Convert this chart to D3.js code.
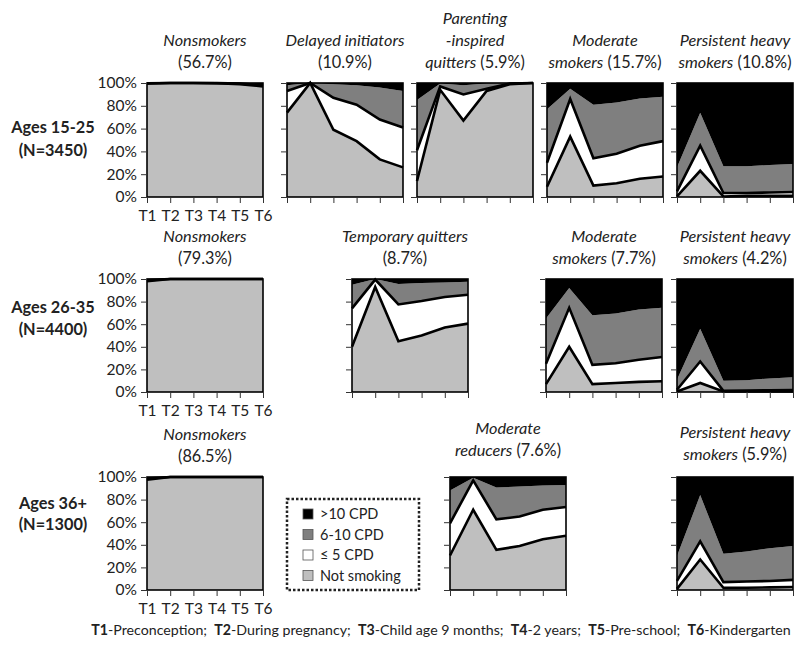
<!DOCTYPE html>
<html>
<head>
<meta charset="utf-8">
<script src="https://cdn.jsdelivr.net/npm/d3@7"></script>
<style>
  html, body { margin: 0; padding: 0; background: #fff; }
  svg { display: block; font-family: Lato, "Open Sans", sans-serif; }
</style>
</head>
<body>
<svg id="chart" width="797" height="650"></svg>
<script>
// ---------------- DATA ----------------
const timepoints = ["T1", "T2", "T3", "T4", "T5", "T6"];
const seriesKeys = ["notSmoking", "le5", "cpd6to10", "gt10"];
const seriesLabels = ["Not smoking", "\u2264 5 CPD", "6-10 CPD", ">10 CPD"];
const yTicks = [0, 0.2, 0.4, 0.6, 0.8, 1];
const rowLabels = [["Ages 15-25", "(N=3450)"], ["Ages 26-35", "(N=4400)"], ["Ages 36+", "(N=1300)"]];

// shares (%) per timepoint: [notSmoking, <=5 CPD, 6-10 CPD, >10 CPD]
const r1Nonsmokers   = [[99.5,100,100,99.8,99,97],[0.2,0,0,0.1,0.5,1],[0.2,0,0,0.1,0.3,1],[0.1,0,0,0,0.2,1]];
const r1Delayed      = [[74,100,59,49,33,26],[19,0,28,32,35,35],[5,0,12,17,28,32],[2,0,1,2,4,7]];
const r1Parenting    = [[14,94,67,93,99,100],[27,3,23,2,0.5,0],[44,2.5,8,4.5,0.5,0],[15,0.5,2,0.5,0,0]];
const r1Moderate     = [[9,53,10,12,16,18],[21,33,24,26,29,31],[47,9,47,45,41.5,39],[23,5,19,17,13.5,12]];
const r1Persistent   = [[0.5,23,0.5,1,1,1],[4.5,22,3,2.5,3,3.4],[21,29,23.5,23.5,24,24.6],[74,26,73,73,72,71]];
const r2Nonsmokers   = [[98,100,100,100,100,100],[1,0,0,0,0,0],[0.6,0,0,0,0,0],[0.4,0,0,0,0,0]];
const r2Temporary    = [[40,93,45,50,57,60.5],[34,6.5,32.5,30.5,27,25.5],[21,0.5,18,16,13,11.5],[5,0,4.5,3.5,3,2.5]];
const r2Moderate     = [[7,40,7,8,9,9.5],[18,34.5,17,17.5,19.5,21.5],[40,17.5,44,44,44.5,43.5],[35,8,32,30.5,27,25.5]];
const r2Persistent   = [[0.5,8,0.5,0.5,0.5,0.5],[1.5,19,0.5,0.7,1,1.3],[9,29,9,9.3,10.5,11.2],[89,44,90,89.5,88,87]];
const r3Nonsmokers   = [[97.5,100,100,100,100,100],[1.2,0,0,0,0,0],[0.8,0,0,0,0,0],[0.5,0,0,0,0,0]];
const r3Reducers     = [[30.5,71,35.5,39,45,48],[28.5,26,27,26,26,25.5],[29,2.4,28.2,26.6,21.4,19.5],[12,0.6,9.3,8.4,7.6,7]];
const r3Persistent   = [[1,27,2,2,2.3,2.6],[7,16,5,5.5,5.7,6.4],[22,41,25,26.5,29,30],[70,16,68,66,63,61]];

const footnote = [["T1","-Preconception;  "],["T2","-During pregnancy;  "],["T3","-Child age 9 months;  "],["T4","-2 years;  "],["T5","-Pre-school;  "],["T6","-Kindergarten"]];

// ---------------- LAYOUT ----------------
const colors = { notSmoking: "#bfbfbf", le5: "#ffffff", cpd6to10: "#7f7f7f", gt10: "#000000" };
const PW = 116;
const rows = [
  { top: 83, bottom: 197, labelY: [127, 150] },
  { top: 279, bottom: 392, labelY: [307, 329] },
  { top: 477, bottom: 590, labelY: [503, 524] }
];
// title: array of lines; each line array of [text, italic]
const panels = [
  { row: 0, x: 147, first: true, data: r1Nonsmokers, title: [[["Nonsmokers", true]], [["(56.7%)", false]]] },
  { row: 0, x: 287, data: r1Delayed, title: [[["Delayed initiators", true]], [["(10.9%)", false]]] },
  { row: 0, x: 417, data: r1Parenting, title: [[["Parenting", true]], [["-inspired", true]], [["quitters", true], [" (5.9%)", false]]] },
  { row: 0, x: 547, data: r1Moderate, title: [[["Moderate", true]], [["smokers", true], [" (15.7%)", false]]] },
  { row: 0, x: 677, data: r1Persistent, title: [[["Persistent heavy", true]], [["smokers", true], [" (10.8%)", false]]] },
  { row: 1, x: 147, first: true, data: r2Nonsmokers, title: [[["Nonsmokers", true]], [["(79.3%)", false]]] },
  { row: 1, x: 352, data: r2Temporary, tdx: -5, title: [[["Temporary quitters", true]], [["(8.7%)", false]]] },
  { row: 1, x: 546, data: r2Moderate, title: [[["Moderate", true]], [["smokers", true], [" (7.7%)", false]]] },
  { row: 1, x: 677, data: r2Persistent, title: [[["Persistent heavy", true]], [["smokers", true], [" (4.2%)", false]]] },
  { row: 2, x: 147, first: true, data: r3Nonsmokers, title: [[["Nonsmokers", true]], [["(86.5%)", false]]] },
  { row: 2, x: 450, data: r3Reducers, tdy: -6, title: [[["Moderate", true]], [["reducers", true], [" (7.6%)", false]]] },
  { row: 2, x: 677, data: r3Persistent, tdy: -2, title: [[["Persistent heavy", true]], [["smokers", true], [" (5.9%)", false]]] }
];

const svg = d3.select("#chart");
const FS = 15.5;

panels.forEach(p => {
  const r = rows[p.row];
  const x = d3.scalePoint().domain(timepoints).range([p.x, p.x + PW]);
  const y = d3.scaleLinear().domain([0, 1]).range([r.bottom, r.top]);
  const table = timepoints.map((t, i) => {
    const o = { t };
    seriesKeys.forEach((k, j) => o[k] = p.data[j][i]);
    return o;
  });
  const stacked = d3.stack().keys(seriesKeys).offset(d3.stackOffsetExpand)(table);
  const g = svg.append("g");
  const area = d3.area().x(d => x(d.data.t)).y0(d => y(d[0])).y1(d => y(d[1]));
  g.selectAll("path.area").data(stacked).join("path")
    .attr("class", "area").attr("d", area).attr("fill", d => colors[d.key]).attr("stroke", "none");
  const line = d3.line().x(d => x(d.data.t)).y(d => y(d[1]));
  g.selectAll("path.bline").data(stacked.filter(s => s.key === "notSmoking" || s.key === "le5")).join("path")
    .attr("class", "bline").attr("d", line).attr("fill", "none").attr("stroke", "#000")
    .attr("stroke-width", 2.6).attr("stroke-linejoin", "miter");
  g.append("rect").attr("x", p.x).attr("y", r.top).attr("width", PW).attr("height", r.bottom - r.top)
    .attr("fill", "none").attr("stroke", "#000").attr("stroke-width", 1.6);

  const ya = d3.axisLeft(y).tickValues(yTicks).tickSize(6).tickPadding(4)
    .tickFormat(p.first ? d3.format(".0%") : () => "");
  const yg = g.append("g").attr("transform", `translate(${p.x},0)`).call(ya);
  const xa = d3.axisBottom(x).tickSize(6).tickPadding(7).tickFormat(p.first ? (d => d) : () => "");
  const xg = g.append("g").attr("transform", `translate(0,${r.bottom})`).call(xa);
  [yg, xg].forEach(a => {
    a.select(".domain").remove();
    a.selectAll(".tick line").attr("stroke", "#333").attr("stroke-width", 1);
    a.selectAll("text").attr("font-family", "Lato, sans-serif").attr("font-size", FS).attr("fill", "#222");
  });

  // title
  const cx = p.x + PW / 2 + (p.tdx || 0);
  const n = p.title.length;
  p.title.forEach((lineParts, li) => {
    const cy = r.top - 21 + (p.tdy || 0) - (n - 1 - li) * 22;
    const t = svg.append("text").attr("x", cx).attr("y", cy + 5.5).attr("text-anchor", "middle")
      .attr("font-size", 16.3).attr("fill", "#222").attr("xml:space", "preserve");
    lineParts.forEach(([txt, it]) => t.append("tspan").attr("font-style", it ? "italic" : "normal").text(txt));
  });
});

// row labels
rows.forEach((r, i) => {
  rowLabels[i].forEach((txt, j) => {
    svg.append("text").attr("x", 53).attr("y", r.labelY[j] + 5.5).attr("text-anchor", "middle")
      .attr("font-size", 16.3).attr("font-weight", "bold").attr("fill", "#222").text(txt);
  });
});

// legend
const lg = svg.append("g");
lg.append("rect").attr("x", 287).attr("y", 499).attr("width", 132).attr("height", 91)
  .attr("fill", "#fff").attr("stroke", "#222").attr("stroke-width", 2.5).attr("stroke-dasharray", "2.5,2");
const legendOrder = [3, 2, 1, 0];
legendOrder.forEach((si, i) => {
  const yy = 514 + i * 20.5;
  lg.append("rect").attr("x", 303).attr("y", yy - 5).attr("width", 10).attr("height", 10)
    .attr("fill", colors[seriesKeys[si]]).attr("stroke", "#555").attr("stroke-width", 0.8);
  lg.append("text").attr("x", 320).attr("y", yy + 5).attr("font-size", 14.5).attr("fill", "#222").text(seriesLabels[si]);
});

// footnote
const ft = svg.append("text").attr("x", 441).attr("y", 635).attr("text-anchor", "middle")
  .attr("font-size", 14.2).attr("fill", "#222").attr("xml:space", "preserve");
footnote.forEach(([b, rest]) => {
  ft.append("tspan").attr("font-weight", "bold").text(b);
  ft.append("tspan").text(rest);
});
</script>
</body>
</html>
